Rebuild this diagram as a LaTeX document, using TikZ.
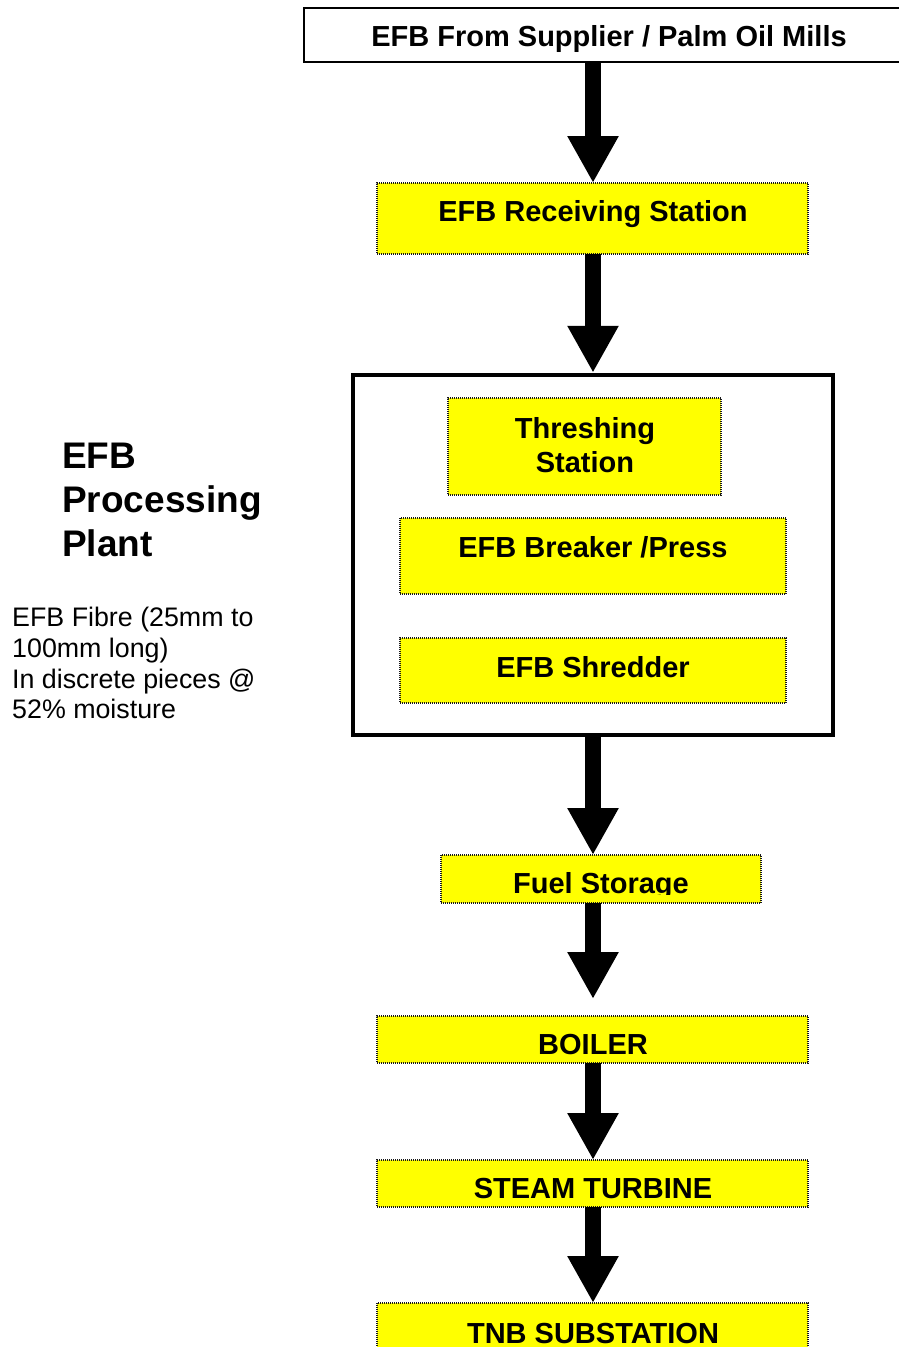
\documentclass[tikz,border=0pt]{standalone}
\usepackage{fontspec}
\setmainfont{Liberation Sans}
\usetikzlibrary{arrows.meta,calc}
\definecolor{boxyellow}{RGB}{255,255,0}
\begin{document}
\begin{tikzpicture}[x=1pt,y=-1pt,
  ybox/.style={draw=black!90, line width=1.2pt, dash pattern=on 1pt off 1pt, fill=boxyellow, inner sep=0pt, outer sep=0pt},
  lbl/.style={font=\bfseries\fontsize{29}{33}\selectfont, inner sep=0pt, anchor=base},
  title/.style={font=\bfseries\fontsize{37}{44}\selectfont, inner sep=0pt, anchor=base west},
  note/.style={font=\fontsize{26.8}{31}\selectfont, inner sep=0pt, anchor=base west},
  flow/.style={line width=16pt, -{Triangle[width=48pt,length=47pt]}},
]
\useasboundingbox (0,0) rectangle (899,1347);
\fill[white] (0,0) rectangle (899,1347);

% source box
\node[draw=black, line width=1.3pt, fill=white, inner sep=0pt, minimum width=620pt, minimum height=54pt] (src) at (614,35) {};
\node[lbl] (srct) at (609,46) {EFB From Supplier / Palm Oil Mills};

% receiving
\node[ybox, minimum width=431pt, minimum height=71pt] (recv) at (592.5,218.5) {};
\node[lbl] (recvt) at (593,221) {EFB Receiving Station};

% plant
\node[draw=black, line width=4.5pt, fill=white, inner sep=0pt, minimum width=480pt, minimum height=360pt] (plant) at (593,555) {};
\node[ybox, minimum width=273pt, minimum height=97pt] (thr) at (584.5,446.5) {};
\node[lbl] (thrt1) at (585,438) {Threshing};
\node[lbl] (thrt2) at (585,472) {Station};
\node[ybox, minimum width=386pt, minimum height=76pt] (brk) at (593,556) {};
\node[lbl] (brkt) at (593,557) {EFB Breaker /Press};
\node[ybox, minimum width=386pt, minimum height=65pt] (shr) at (593,670.5) {};
\node[lbl] (shrt) at (593,677) {EFB Shredder};

% fuel storage
\node[ybox, minimum width=320pt, minimum height=48pt] (fuel) at (601,879) {};
\begin{scope}
  \clip (441,850) rectangle (761,894);
  \node[lbl] (fuelt) at (601,893) {Fuel Storage};
\end{scope}

% boiler etc
\node[ybox, minimum width=431pt, minimum height=47pt] (boil) at (592.5,1039.5) {};
\node[lbl] (boilt) at (593,1054) {BOILER};
\node[ybox, minimum width=431pt, minimum height=47pt] (stm) at (592.5,1183.5) {};
\node[lbl] (stmt) at (593,1198) {STEAM TURBINE};
\node[ybox, minimum width=431pt, minimum height=70pt] (tnb) at (592.5,1338) {};
\node[lbl] (tnbt) at (593,1343) {TNB SUBSTATION};

% left texts
\node[title] (t1) at (62,468) {EFB};
\node[title] (t2) at (62,512) {Processing};
\node[title] (t3) at (62,556) {Plant};
\node[note] (n1) at (12,626) {EFB Fibre (25mm to};
\node[note] (n2) at (12,657) {100mm long)};
\node[note] (n3) at (12,688) {In discrete pieces @};
\node[note] (n4) at (12,718) {52\% moisture};

% arrows
\coordinate (ax) at (593,0);
\draw[flow] (src.south -| ax) -- (recv.north -| ax);
\draw[flow] (recv.south -| ax) -- (plant.north);
\draw[flow] (plant.south) -- (fuel.north -| ax);
\draw[flow, shorten >=17pt] (fuel.south -| ax) -- (boil.north -| ax);
\draw[flow] (boil.south -| ax) -- (stm.north -| ax);
\draw[flow] (stm.south -| ax) -- (tnb.north -| ax);
\end{tikzpicture}
\end{document}
